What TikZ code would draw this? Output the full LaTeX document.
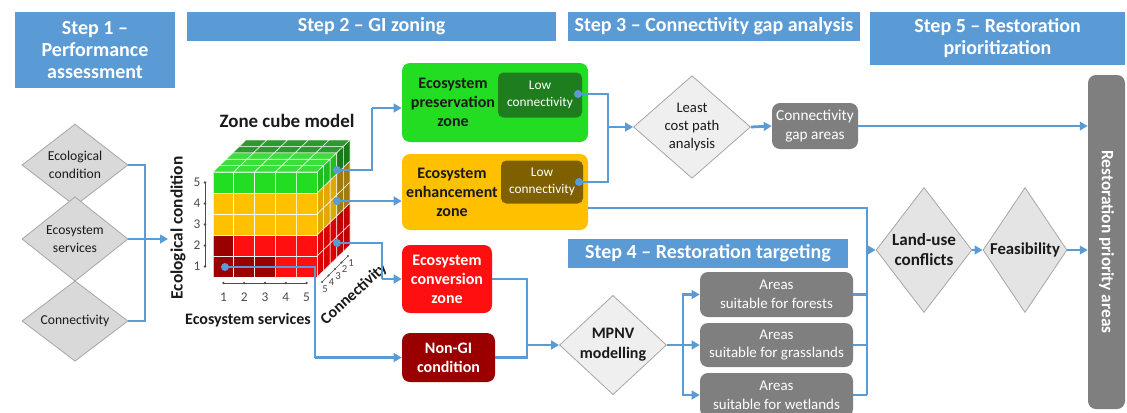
\documentclass[tikz,border=0pt]{standalone}
\usepackage{fontspec}
\setmainfont{Carlito}
\usetikzlibrary{shapes.geometric,arrows.meta,calc}
\definecolor{hdr}{HTML}{5B9BD5}
\definecolor{lnk}{HTML}{5B9BD5}
\definecolor{dia}{HTML}{D9D9D9}
\definecolor{dial}{HTML}{EFEFEF}
\definecolor{diaedge}{HTML}{A6A6A6}
\definecolor{grayb}{HTML}{7F7F7F}
\definecolor{txt}{HTML}{1A1A1A}
\definecolor{zgreen}{HTML}{22DD22}
\definecolor{zdgreen}{HTML}{1E7E1E}
\definecolor{zorange}{HTML}{FFC000}
\definecolor{zbrown}{HTML}{7F6000}
\definecolor{zred}{HTML}{FF0F0F}
\definecolor{zdred}{HTML}{9A0000}
\definecolor{ztopg}{HTML}{3ADF3A}
\definecolor{ztopd}{HTML}{2E9A2E}
\definecolor{zsgr}{HTML}{1DBE1D}
\definecolor{zsgrd}{HTML}{187A18}
\definecolor{zsor}{HTML}{E0A800}
\definecolor{zsord}{HTML}{A07C10}
\definecolor{zsred}{HTML}{DD0000}
\definecolor{zsredd}{HTML}{C00000}
\begin{document}
\begin{tikzpicture}[x=0.75pt,y=-0.75pt,
  wh/.style 2 args={minimum width=#1*0.75pt, minimum height=#2*0.75pt},
  hdrbox/.style={fill=hdr, draw=none, text=white, inner sep=0pt, align=center,
    font=\fontsize{15}{16.5}\selectfont\bfseries},
  leftdia/.style={diamond, fill=dia, draw=diaedge, line width=0.6pt, inner sep=0pt,
    align=center, text=txt, font=\fontsize{10.2}{13.5}\selectfont},
  procdia/.style={diamond, fill=dial, draw=diaedge, line width=0.6pt, inner sep=0pt,
    align=center, text=txt},
  zonebox/.style={rounded corners=6pt, draw=none, inner sep=0pt},
  zonetext/.style={align=center, text=txt, inner sep=0pt,
    font=\fontsize{12}{14.3}\selectfont\bfseries},
  lowbox/.style={rounded corners=4pt, draw=none, inner sep=0pt, align=center, text=white,
    font=\fontsize{10}{13}\selectfont},
  whitebold/.style={align=center, text=white, inner sep=0pt,
    font=\fontsize{12}{14.3}\selectfont\bfseries},
  graybox/.style={fill=grayb, rounded corners=6pt, draw=none, inner sep=0pt, align=center,
    text=white, font=\fontsize{11.2}{14}\selectfont},
  conn/.style={draw=lnk, line width=2.1pt},
  arr/.style={conn, -{Triangle[length=6pt,width=6.5pt]}},
  dot/.style={circle, fill=lnk, inner sep=0pt, minimum size=6pt},
  cellline/.style={draw=white, line width=0.5pt, draw opacity=0.75},
  axis/.style={draw=black!70, line width=0.5pt},
  ticklab/.style={text=black!70, inner sep=0pt, font=\fontsize{10}{11}\selectfont},
]
\useasboundingbox[fill=white] (0,0) rectangle (1127,412);

% ---------- headers ----------
\node[hdrbox, wh={160}{76}] (h1) at (95,50) {Step 1 --\\Performance\\assessment};
\node[hdrbox, wh={369}{29}] (h2) at (371.5,26.5) {Step 2 -- GI zoning};
\node[hdrbox, wh={292}{29}] (h3) at (714,26.5) {Step 3 -- Connectivity gap analysis};
\node[hdrbox, wh={255}{53}] (h5) at (997.5,38.5) {Step 5 -- Restoration\\prioritization};
\node[hdrbox, wh={280}{29}] (h4) at (708,253.5) {Step 4 -- Restoration targeting};

% ---------- step 1 diamonds ----------
\node[leftdia, wh={106}{68}] (d1) at (75,165) {Ecological\\condition};
\node[leftdia, wh={106}{72}] (d2) at (75,239) {Ecosystem\\services};
\node[leftdia, wh={106}{76}] (d3) at (75,321) {Connectivity};

\coordinate (j1) at (145,239);
\coordinate (cubein) at (168,239);
\draw[conn] (d1.east) -| (j1);
\draw[conn] (d3.east) -| (j1);
\draw[arr] (d2.east) -- (cubein);

% ---------- cube ----------
\node[inner sep=0pt, text=txt, font=\fontsize{14.2}{16}\selectfont\bfseries] (cubetitle) at (287,121) {Zone cube model};
% top face
\foreach \k in {1,...,5}{\foreach \cl in {1,...,5}{
  \def\cc{ztopg}\ifnum\k>3 \def\cc{ztopd}\fi
  \filldraw[fill=\cc, cellline]
   ({213+(\cl-1)*20.8+(\k-1)*6.6},{172-(\k-1)*6.4}) --
   ({213+\cl*20.8+(\k-1)*6.6},{172-(\k-1)*6.4}) --
   ({213+\cl*20.8+\k*6.6},{172-\k*6.4}) --
   ({213+(\cl-1)*20.8+\k*6.6},{172-\k*6.4}) -- cycle;
}}
% right face
\foreach \k in {1,...,5}{\foreach \rw in {1,...,5}{
  \def\cc{zsred}%
  \ifnum\rw>2 \def\cc{zsor}\fi
  \ifnum\rw=5 \def\cc{zsgr}\fi
  \ifnum\k>3
    \ifnum\rw<3 \def\cc{zsredd}\fi
    \ifnum\rw>2 \def\cc{zsord}\fi
    \ifnum\rw=5 \def\cc{zsgrd}\fi
  \fi
  \filldraw[fill=\cc, cellline]
   ({317+(\k-1)*6.6},{277-(\rw-1)*21-(\k-1)*6.4}) --
   ({317+\k*6.6},{277-(\rw-1)*21-\k*6.4}) --
   ({317+\k*6.6},{277-\rw*21-\k*6.4}) --
   ({317+(\k-1)*6.6},{277-\rw*21-(\k-1)*6.4}) -- cycle;
}}
% front face
\foreach \rw in {1,...,5}{\foreach \cl in {1,...,5}{
  \def\cc{zred}%
  \ifnum\rw>2 \def\cc{zorange}\fi
  \ifnum\rw=5 \def\cc{zgreen}\fi
  \ifnum\rw=1 \ifnum\cl<4 \def\cc{zdred}\fi\fi
  \ifnum\rw=2 \ifnum\cl=1 \def\cc{zdred}\fi\fi
  \filldraw[fill=\cc, cellline]
   ({213+(\cl-1)*20.8},{277-\rw*21}) rectangle ({213+\cl*20.8},{277-(\rw-1)*21});
}}
% vertical axis
\draw[axis] (205,182.5) -- (205,266.5);
\foreach \rw in {1,...,5}{
  \fill[black!70] (205,{277-(\rw-0.5)*21}) circle (1.3);
  \node[ticklab] at (197,{277-(\rw-0.5)*21}) {\rw};
}
\node[rotate=90, inner sep=0pt, text=txt, font=\fontsize{13}{14}\selectfont\bfseries] (ylab) at (178,228) {Ecological condition};
% horizontal axis
\draw[axis] (223.4,283) -- (306.6,283);
\foreach \cl in {1,...,5}{
  \fill[black!70] ({213+(\cl-0.5)*20.8},283) circle (1.3);
  \node[ticklab] at ({213+(\cl-0.5)*20.8},297) {\cl};
}
\node[inner sep=0pt, text=txt, font=\fontsize{12}{13}\selectfont\bfseries] (xlab) at (248,320) {Ecosystem services};
% depth axis
\draw[axis] (322,282) -- (348,256);
\foreach \i/\lab in {0/5,1/4,2/3,3/2,4/1}{
  \fill[black!70] ({322+\i*6.5},{282-\i*6.5}) circle (1.1);
  \node[ticklab, font=\fontsize{8}{9}\selectfont] at ({325+\i*6.5},{289-\i*6.5}) {\lab};
}
\node[rotate=42, inner sep=0pt, text=txt, font=\fontsize{12}{13}\selectfont\bfseries] (zlab) at (354,294) {Connectivity};

% ---------- step 2 zones ----------
\node[zonebox, fill=zgreen, wh={186}{79}] (pz) at (495,102.5) {};
\node[zonetext] (pzt) at (453,102.5) {Ecosystem\\preservation\\zone};
\node[lowbox, fill=zdgreen, wh={84}{45}] (lc1) at (540,95) {Low\\connectivity};

\node[zonebox, fill=zorange, wh={186}{76}] (ez) at (495,192) {};
\node[zonetext] (ezt) at (452,192) {Ecosystem\\enhancement\\zone};
\node[lowbox, fill=zbrown, wh={82}{43}] (lc2) at (542,182) {Low\\connectivity};

\node[zonebox, fill=zred, wh={90}{68}, whitebold] (rz) at (447,279) {Ecosystem\\conversion\\zone};
\node[zonebox, fill=zdred, wh={93}{49}, whitebold] (ng) at (448.5,357.5) {Non-GI\\condition};

% cube connectors
\node[dot] (g1) at (337,170) {};
\node[dot] (o1) at (337,201) {};
\node[dot] (r1) at (337,243) {};
\node[dot] (dr) at (225,267) {};
\coordinate (k1) at (372,108);
\coordinate (k3) at (382,279);
\coordinate (k4) at (315,357.5);
\draw[conn] (g1.center) -| (k1);
\draw[arr] (k1) -- (pz.west |- k1);
\draw[arr] (o1.center) -- (ez.west |- o1);
\draw[conn] (r1.center) -| (k3);
\draw[arr] (k3) -- (rz.west);
\draw[conn] (dr.center) -| (k4);
\draw[arr] (k4) -- (ng.west);

% ---------- step 3 ----------
\node[procdia, wh={117}{65}, font=\fontsize{11}{13.5}\selectfont] (lcp) at (692,127) {Least\\cost path\\analysis};
\node[graybox, wh={86}{46}, font=\fontsize{11.5}{14}\selectfont] (gap) at (815,126) {Connectivity\\gap areas};
\node[dot] (lcd1) at (578,94) {};
\node[dot] (lcd2) at (579,182) {};
\coordinate (k5) at (608,127);
\draw[conn] (lcd1.center) -| (k5);
\draw[conn] (lcd2.center) -| (k5);
\draw[arr] (k5) -- (lcp.west);
\draw[arr] (lcp.east) -- (gap.west);

% ---------- step 4 ----------
\node[procdia, wh={107}{72}, font=\fontsize{12}{15}\selectfont\bfseries] (mp) at (613,345) {MPNV\\modelling};
\coordinate (k10) at (527,345);
\draw[conn] (rz.east) -| (k10);
\draw[conn] (ng.east) -| (k10);
\draw[arr] (k10) -- (mp.west);

\node[graybox, wh={153}{45}] (af) at (776.5,294.5) {Areas\\suitable for forests};
\node[graybox, wh={153}{44}] (ag) at (776.5,345) {Areas\\suitable for grasslands};
\node[graybox, wh={153}{44}] (aw) at (776.5,395) {Areas\\suitable for wetlands};
\coordinate (k11) at (683,345);
\draw[conn] (mp.east) -- (k11);
\draw[arr] (k11) |- (af.west);
\draw[arr] (k11) -- (ag.west);
\draw[arr] (k11) |- (aw.west);

% ---------- step 5 ----------
\node[fill=grayb, rounded corners=6pt, draw=none, inner sep=0pt, wh={37}{334}] (bar) at (1106.5,242) {};
\node[rotate=-90, text=white, inner sep=0pt, font=\fontsize{13}{15}\selectfont\bfseries] (bart) at (bar.center) {Restoration priority areas};
\node[procdia, fill=dia!70!white, wh={78}{125}, font=\fontsize{12.8}{15}\selectfont\bfseries] (lu) at (924,250) {Land-use\\conflicts};
\node[procdia, fill=dia!70!white, wh={80}{125}, font=\fontsize{12.5}{15}\selectfont\bfseries] (fe) at (1025,250) {Feasibility};

\coordinate (k6) at (867,208);
\coordinate (k8) at (867,395);
\coordinate (k9) at (867,250);
\draw[conn] (ez.east |- k6) -| (k8);
\draw[conn] (af.east) -- (af.east -| k8);
\draw[conn] (ag.east) -- (ag.east -| k8);
\draw[conn] (aw.east) -- (aw.east -| k8);
\draw[arr] (k9) -- (lu.west);
\draw[arr] (lu.east) -- (fe.west);
\draw[arr] (fe.east) -- (bar.west |- fe.east);
\draw[arr] (gap.east) -- (bar.west |- gap.east);
\end{tikzpicture}
\end{document}
